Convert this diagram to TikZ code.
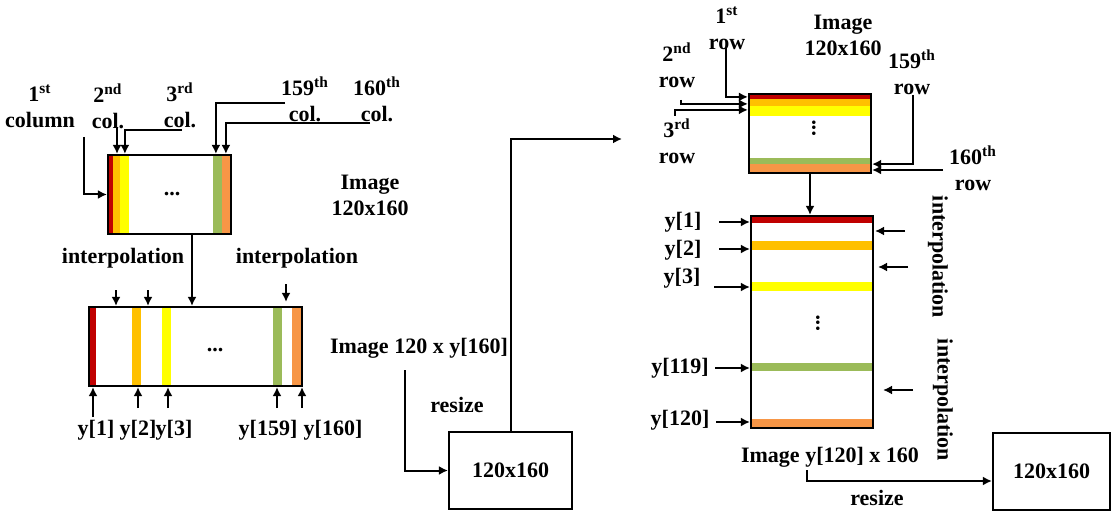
\documentclass[tikz,border=0pt]{standalone}
\usepackage{fontspec}
\setmainfont{Liberation Serif}
\usetikzlibrary{arrows.meta,backgrounds}
\definecolor{DarkRed}{HTML}{C00000}
\definecolor{Amber}{HTML}{FFC000}
\definecolor{Lemon}{HTML}{FFFF00}
\definecolor{Olive}{HTML}{9BBB59}
\definecolor{Peach}{HTML}{F79646}

\begin{document}
\begin{tikzpicture}[
  x=0.5pt,y=-0.5pt,
  every node/.style={font=\fontsize{11}{13}\selectfont\bfseries},
  lbl/.style={align=center,inner sep=0pt},
  imgbox/.style={draw,line width=1.1pt,inner sep=0pt},
  arr/.style={-{Latex[length=4.5pt,width=4.5pt]},line width=1pt}
]
\useasboundingbox (0,0) rectangle (1113,513);

% column-wise stage
\node[imgbox,minimum width=61.5pt,minimum height=39.5pt] (colimg) at (169.5,194.5) {};
\node (dotsA) at (172,194) {...};
\node[imgbox,minimum width=106.5pt,minimum height=39.5pt] (colint) at (195.5,346.5) {};
\node (dotsB) at (215,350) {...};
\node[lbl] (col1) at (40,106) {1\textsuperscript{st}\\column};
\node[lbl] (col2) at (108,106) {2\textsuperscript{nd}\\col.};
\node[lbl] (col3) at (180,105) {3\textsuperscript{rd}\\col.};
\node[lbl] (col159) at (305,99) {159\textsuperscript{th}\\col.};
\node[lbl] (col160) at (377,99) {160\textsuperscript{th}\\col.};
\node[lbl] (imgA) at (370,195) {Image\\120x160};
\node[lbl] (interpA) at (123,258) {interpolation};
\node[lbl] (interpB) at (297,258) {interpolation};
\node[lbl] (y1) at (96,430) {y[1]};
\node[lbl] (y2) at (138,430) {y[2]};
\node[lbl] (y3) at (174,430) {y[3]};
\node[lbl] (y159) at (268,430) {y[159]};
\node[lbl] (y160) at (333,430) {y[160]};

% resize of the first result
\node[lbl] (imgB) at (419,348) {Image 120 x y[160]};
\node[lbl] (resizeA) at (457,405) {resize};
\node[imgbox,minimum width=61.5pt,minimum height=38.5pt] (boxA) at (510.5,470.5) {120x160};

% row-wise stage
\node[imgbox,minimum width=61pt,minimum height=39.5pt] (rowimg) at (810,133.5) {};
\node[rotate=90] (dotsC) at (814,128) {...};
\node[imgbox,minimum width=61pt,minimum height=106pt] (rowint) at (812,322) {};
\node[rotate=90] (dotsD) at (818,323) {...};
\node[lbl] (row1) at (727,28) {1\textsuperscript{st}\\row};
\node[lbl] (imgC) at (843,35) {Image\\120x160};
\node[lbl] (row2) at (677,65) {2\textsuperscript{nd}\\row};
\node[lbl] (row3) at (677,141) {3\textsuperscript{rd}\\row};
\node[lbl] (row159) at (912,72) {159\textsuperscript{th}\\row};
\node[lbl] (row160) at (973,168) {160\textsuperscript{th}\\row};
\node[lbl] (yr1) at (683,222) {y[1]};
\node[lbl] (yr2) at (683,250) {y[2]};
\node[lbl] (yr3) at (682,278) {y[3]};
\node[lbl] (yr119) at (680,368) {y[119]};
\node[lbl] (yr120) at (680,420) {y[120]};
\node[lbl,rotate=-90] (interpC) at (938,257) {interpolation};
\node[lbl,rotate=-90] (interpD) at (943,400) {interpolation};
\node[lbl] (imgD) at (830,457) {Image y[120] x 160};
\node[lbl] (resizeB) at (877,498) {resize};
\node[imgbox,minimum width=58.5pt,minimum height=38.5pt] (boxB) at (1051.5,471.5) {120x160};

% colour stripes
\begin{scope}[on background layer]
\fill[DarkRed] (colimg.north west) rectangle ++(6,79);
\fill[Amber] (colimg.north west) ++(6,0) rectangle ++(7,79);
\fill[Lemon] (colimg.north west) ++(13,0) rectangle ++(9,79);
\fill[Olive] (colimg.north west) ++(106,0) rectangle ++(9,79);
\fill[Peach] (colimg.north west) ++(115,0) rectangle ++(8,79);
\fill[DarkRed] (colint.north west) rectangle ++(8,79);
\fill[Amber] (colint.north west) ++(44,0) rectangle ++(9,79);
\fill[Lemon] (colint.north west) ++(74,0) rectangle ++(9,79);
\fill[Olive] (colint.north west) ++(185,0) rectangle ++(9,79);
\fill[Peach] (colint.north west) ++(204,0) rectangle ++(9,79);
\fill[DarkRed] (rowimg.north west) rectangle ++(122,6);
\fill[Amber] (rowimg.north west) ++(0,6) rectangle ++(122,7);
\fill[Lemon] (rowimg.north west) ++(0,13) rectangle ++(122,10);
\fill[Olive] (rowimg.north west) ++(0,65) rectangle ++(122,6);
\fill[Peach] (rowimg.north west) ++(0,71) rectangle ++(122,8);
\fill[DarkRed] (rowint.north west) rectangle ++(122,8);
\fill[Amber] (rowint.north west) ++(0,26) rectangle ++(122,9);
\fill[Lemon] (rowint.north west) ++(0,67) rectangle ++(122,9);
\fill[Olive] (rowint.north west) ++(0,148) rectangle ++(122,8);
\fill[Peach] (rowint.north west) ++(0,204) rectangle ++(122,8);
\end{scope}

% free ends
\coordinate (c1) at (84,137);
\coordinate (c2) at (117,127);
\coordinate (c3) at (182,130);
\coordinate (c159) at (285,103);
\coordinate (c160) at (370,123);
\coordinate (i1) at (116,290);
\coordinate (i2) at (148,290);
\coordinate (i3) at (286,284);
\coordinate (u1) at (93,417);
\coordinate (u2) at (138,408);
\coordinate (u3) at (168,408);
\coordinate (u159) at (277,408);
\coordinate (u160) at (302,408);
\coordinate (rs) at (405,370);
\coordinate (out) at (622,139);
\coordinate (r1) at (726,48);
\coordinate (r2) at (681,100);
\coordinate (r3) at (675,116);
\coordinate (r159) at (913,95);
\coordinate (r160) at (943,170);
\coordinate (v1) at (719,222);
\coordinate (v2) at (719,249);
\coordinate (v3) at (714,287);
\coordinate (v119) at (715,368);
\coordinate (v120) at (716,422);
\coordinate (p1) at (905,231);
\coordinate (p2) at (908,267);
\coordinate (p3) at (913,390);
\coordinate (rsB) at (807,470);

\draw[arr] (c1) |- (colimg.west);
\draw[arr] (c2) -- (c2 |- colimg.north);
\draw[arr] (c3) -| ([xshift=9pt]colimg.north west);
\draw[arr] (c159) -| ([xshift=54.5pt]colimg.north west);
\draw[arr] (c160) -| ([xshift=59.5pt]colimg.north west);
\draw[arr] ([xshift=11.25pt]colimg.south) -- ([xshift=11.25pt]colimg.south |- colint.north);
\draw[arr] (i1) -- (i1 |- colint.north);
\draw[arr] (i2) -- (i2 |- colint.north);
\draw[arr] (i3) -- ([yshift=2pt]i3 |- colint.north);
\draw[arr] (u1) -- (u1 |- colint.south);
\draw[arr] (u2) -- (u2 |- colint.south);
\draw[arr] (u3) -- (u3 |- colint.south);
\draw[arr] (u159) -- (u159 |- colint.south);
\draw[arr] (u160) -- (u160 |- colint.south);
\draw[arr] (rs) |- (boxA.west);
\draw[arr] (boxA.north) |- (out);
\draw[arr] (r1) |- ([yshift=-2pt]rowimg.north west);
\draw[arr] (r2) |- ([yshift=-5.5pt]rowimg.north west);
\draw[arr] (r3) |- ([yshift=-8.5pt]rowimg.north west);
\draw[arr] (r159) |- ([yshift=5pt]rowimg.south east);
\draw[arr] (r160) -- (r160 -| rowimg.east);
\draw[arr] (rowimg.south) -- (rowimg.south |- rowint.north);
\draw[arr] (v1) -- (v1 -| rowint.west);
\draw[arr] (v2) -- (v2 -| rowint.west);
\draw[arr] (v3) -- (v3 -| rowint.west);
\draw[arr] (v119) -- (v119 -| rowint.west);
\draw[arr] (v120) -- (v120 -| rowint.west);
\draw[arr] (p1) -- ++(-30,0);
\draw[arr] (p2) -- ++(-30,0);
\draw[arr] (p3) -- ++(-30,0);
\draw[arr] (rsB) |- ([yshift=-4.75pt]boxB.west);
\end{tikzpicture}
\end{document}
